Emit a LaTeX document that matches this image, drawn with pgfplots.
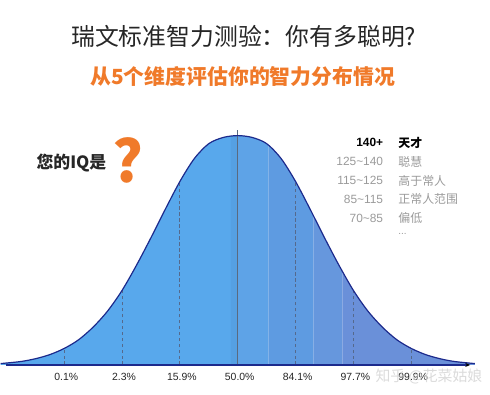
\documentclass[border=0pt]{standalone}
\usepackage{pgfplots}
\pgfplotsset{compat=1.18}
\usepgfplotslibrary{fillbetween}
\usetikzlibrary{arrows.meta}
\usepackage{fontspec}
\setmainfont{Liberation Sans}
\newfontfamily\cjk{Noto Sans CJK SC}
\definecolor{titlec}{HTML}{262626}
\definecolor{orangec}{HTML}{F07A2A}
\definecolor{grayc}{HTML}{9A9A9A}
\definecolor{curvec}{HTML}{1C2A8C}
\definecolor{dashc}{HTML}{55698C}
\definecolor{centc}{HTML}{5A6A80}
\definecolor{bA}{HTML}{58A8EC}
\definecolor{bB}{HTML}{55A0E3}
\definecolor{bC}{HTML}{5EA3E7}
\definecolor{bD}{HTML}{5E9BE1}
\definecolor{bE}{HTML}{6697DD}
\definecolor{bF}{HTML}{6A90D9}
\begin{document}
\begin{tikzpicture}
\begin{axis}[
  at={(0,30bp)}, anchor=south west,
  scale only axis, width=490bp, height=230bp,
  xmin=-4.086, xmax=4.362, ymin=0, ymax=1,
  clip=false,
  axis line style={draw=none},
  tick style={draw=none},
  ytick=\empty,
  xtick={-3,-2,-1,0,1,2,3},
  xticklabels={0.1\%,2.3\%,15.9\%,50.0\%,84.1\%,97.7\%,99.9\%},
  xticklabel style={font=\fontsize{10.5}{12}\selectfont, text=titlec, xshift=2bp, yshift=-5bp},
]
\addplot[draw=none, name path=base] coordinates {(-4.1,0) (4.1,0)};
\addplot[draw=none, name path=curve, smooth] coordinates {
(-4.1,0.006) (-3.75,0.015) (-3.5,0.027) (-3.25,0.045) (-3,0.072) (-2.75,0.11) (-2.5,0.165) (-2.25,0.235) (-2,0.325) (-1.75,0.435) (-1.5,0.555) (-1.25,0.68) (-1,0.80) (-0.75,0.90) (-0.5,0.965) (-0.25,0.992) (0,1)
(0.25,0.992) (0.5,0.965) (0.75,0.90) (1,0.80) (1.25,0.68) (1.5,0.555) (1.75,0.435) (2,0.325) (2.25,0.235) (2.5,0.165) (2.75,0.11) (3,0.072) (3.25,0.045) (3.5,0.027) (3.75,0.015) (4.1,0.006)};
\addplot[fill=bA, draw=none] fill between[of=curve and base, soft clip={domain=-4.2:-0.12}];
\addplot[fill=bB, draw=none] fill between[of=curve and base, soft clip={domain=-0.12:0}];
\addplot[fill=bC, draw=none] fill between[of=curve and base, soft clip={domain=0:0.53}];
\addplot[fill=bD, draw=none] fill between[of=curve and base, soft clip={domain=0.53:1.31}];
\addplot[fill=bE, draw=none] fill between[of=curve and base, soft clip={domain=1.31:1.81}];
\addplot[fill=bF, draw=none] fill between[of=curve and base, soft clip={domain=1.81:4.2}];
\addplot[dashc, line width=1pt, dash pattern=on 3.5pt off 2.5pt] coordinates {(-3,0) (-3,0.072)};
\addplot[dashc, line width=1pt, dash pattern=on 3.5pt off 2.5pt] coordinates {(-2,0) (-2,0.325)};
\addplot[dashc, line width=1pt, dash pattern=on 3.5pt off 2.5pt] coordinates {(-1,0) (-1,0.80)};
\addplot[dashc, line width=1pt, dash pattern=on 3.5pt off 2.5pt] coordinates {(1,0) (1,0.80)};
\addplot[dashc, line width=1pt, dash pattern=on 3.5pt off 2.5pt] coordinates {(2,0) (2,0.325)};
\addplot[dashc, line width=1pt, dash pattern=on 3.5pt off 2.5pt] coordinates {(3,0) (3,0.072)};
\addplot[centc, line width=1pt] coordinates {(0,0) (0,1.025)};
\addplot[curvec, line width=1.2pt, smooth] coordinates {
(-4.1,0.006) (-3.75,0.015) (-3.5,0.027) (-3.25,0.045) (-3,0.072) (-2.75,0.11) (-2.5,0.165) (-2.25,0.235) (-2,0.325) (-1.75,0.435) (-1.5,0.555) (-1.25,0.68) (-1,0.80) (-0.75,0.90) (-0.5,0.965) (-0.25,0.992) (0,1)
(0.25,0.992) (0.5,0.965) (0.75,0.90) (1,0.80) (1.25,0.68) (1.5,0.555) (1.75,0.435) (2,0.325) (2.25,0.235) (2.5,0.165) (2.75,0.11) (3,0.072) (3.25,0.045) (3.5,0.027) (3.75,0.015) (4.1,0.006)};
\addplot[curvec, line width=1.3pt, -{Stealth[length=5pt,width=4pt,black]}] coordinates {(-4.0,0) (4.02,0)};
\end{axis}
% titles
\node[text=titlec, font=\cjk\fontsize{24}{27}\selectfont] at (243bp,359bp) {瑞文标准智力测验：你有多聪明?};
\node[text=orangec, font=\cjk\bfseries\fontsize{21}{24}\selectfont] at (242bp,319bp) {从5个维度评估你的智力分布情况};
\node[text=titlec, font=\cjk\bfseries\fontsize{17}{20}\selectfont, anchor=west, inner sep=0pt] at (35bp,233bp) {您的IQ是};
\node[text=orangec, font=\cjk\bfseries\fontsize{58}{64}\selectfont, inner sep=0pt] at (127bp,235bp) {?};
% right table
\node[text=black, font=\bfseries\fontsize{12}{14}\selectfont, anchor=east, inner sep=0pt] at (383bp,253bp) {140+};
\node[text=black, font=\cjk\bfseries\fontsize{12}{14}\selectfont, anchor=west, inner sep=0pt] at (398bp,253bp) {天才};
\node[text=grayc, font=\fontsize{12}{14}\selectfont, anchor=east, inner sep=0pt] at (383bp,234bp) {125\textasciitilde140};
\node[text=grayc, font=\cjk\fontsize{12}{14}\selectfont, anchor=west, inner sep=0pt] at (398bp,234bp) {聪慧};
\node[text=grayc, font=\fontsize{12}{14}\selectfont, anchor=east, inner sep=0pt] at (383bp,215bp) {115\textasciitilde125};
\node[text=grayc, font=\cjk\fontsize{12}{14}\selectfont, anchor=west, inner sep=0pt] at (398bp,215bp) {高于常人};
\node[text=grayc, font=\fontsize{12}{14}\selectfont, anchor=east, inner sep=0pt] at (383bp,196bp) {85\textasciitilde115};
\node[text=grayc, font=\cjk\fontsize{12}{14}\selectfont, anchor=west, inner sep=0pt] at (398bp,196bp) {正常人范围};
\node[text=grayc, font=\fontsize{12}{14}\selectfont, anchor=east, inner sep=0pt] at (383bp,177bp) {70\textasciitilde85};
\node[text=grayc, font=\cjk\fontsize{12}{14}\selectfont, anchor=west, inner sep=0pt] at (398bp,177bp) {偏低};
\node[text=grayc, font=\fontsize{10}{12}\selectfont, anchor=west, inner sep=0pt] at (398bp,161bp) {...};
% watermark
\node[text=gray!35, opacity=0.8, font=\cjk\fontsize{15}{18}\selectfont, anchor=west, inner sep=0pt] at (375bp,18bp) {知乎 @花菜姑娘};
\path (0,0) rectangle (490bp,396bp);
\end{tikzpicture}
\end{document}
